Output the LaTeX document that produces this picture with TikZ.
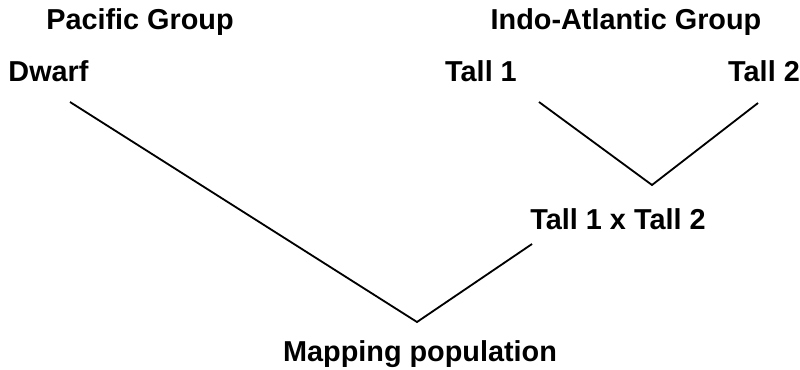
\documentclass[tikz,border=0pt]{standalone}
\usepackage{fontspec}
\setmainfont{Liberation Sans}
\tikzset{
    label text/.style={anchor=base, inner sep=0pt, font=\fontsize{20.5}{24}\selectfont\bfseries},
    cross line/.style={line width=1.3pt}
}
\begin{document}
\begin{tikzpicture}[x=0.025cm, y=-0.025cm]
    \useasboundingbox (0,0) rectangle (800,369);

    % Group headings
    \node[label text] (pacific) at (140,29) {Pacific Group};
    \node[label text] (indo) at (626,29) {Indo-Atlantic Group};

    % Parents
    \node[label text] (dwarf) at (48.5,81) {Dwarf};
    \node[label text] (tallA) at (481,81) {Tall 1};
    \node[label text] (tallB) at (764,81) {Tall 2};

    % Crosses
    \node[label text] (hybrid) at (618,229) {Tall 1 x Tall 2};
    \node[label text] (mapping) at (420,361) {Mapping population};

    % Line ends
    \coordinate (dwarfend) at (70,102);
    \coordinate (tallAend) at (539,102);
    \coordinate (tallBend) at (758,103);
    \coordinate (hybridtop) at (652,185);
    \coordinate (hybridend) at (532,244);
    \coordinate (mappingtop) at (417,322);

    \draw[cross line] (tallAend) -- (hybridtop) -- (tallBend);
    \draw[cross line] (dwarfend) -- (mappingtop) -- (hybridend);
\end{tikzpicture}
\end{document}
